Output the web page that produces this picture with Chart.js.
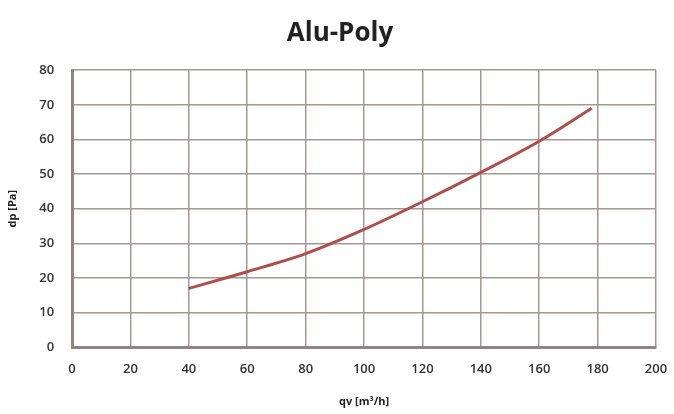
<!DOCTYPE html>
<html>
<head>
<meta charset="utf-8">
<script src="https://cdn.jsdelivr.net/npm/chart.js@4/dist/chart.umd.min.js"></script>
<style>
  html, body { margin: 0; padding: 0; background: #fff; }
  #wrap { width: 674px; height: 414px; }
</style>
</head>
<body>
<div id="wrap"><canvas id="chart"></canvas></div>
<script>
// flow values (m3/h) and matching pressure drop (Pa)
var flowValues = [40, 60, 80, 100, 120, 140, 160, 178];
var pressureValues = [17, 21.8, 27, 34, 42, 50.5, 59.5, 69];

var xTicks = [0, 20, 40, 60, 80, 100, 120, 140, 160, 180, 200];
var yTicks = [0, 10, 20, 30, 40, 50, 60, 70, 80];

var points = flowValues.map(function (q, i) {
    return { x: q, y: pressureValues[i] };
});

var gridColor = '#a39894';
var tickFont = { family: 'Open Sans', size: 13, weight: '600' };

new Chart(document.getElementById('chart'), {
    type: 'scatter',
    data: {
        datasets: [{
            label: 'Alu-Poly',
            data: points,
            showLine: true,
            borderColor: '#b14e4c',
            borderWidth: 3,
            pointRadius: 0,
            tension: 0.4,
            cubicInterpolationMode: 'monotone'
        }]
    },
    options: {
        responsive: true,
        maintainAspectRatio: false,
        animation: false,
        layout: { padding: { left: 6, right: 0, top: 6, bottom: 6 } },
        plugins: {
            legend: { display: false },
            tooltip: { enabled: false },
            title: {
                display: true,
                text: 'Alu-Poly',
                color: '#222',
                font: { family: 'Open Sans', size: 26, weight: 'bold' },
                padding: { top: 12, bottom: 21 }
            }
        },
        scales: {
            x: {
                type: 'linear',
                min: 0,
                max: 200,
                afterBuildTicks: function (axis) {
                    axis.ticks = xTicks.map(function (v) { return { value: v }; });
                },
                // the tick padding would otherwise be added to the right edge
                afterFit: function (axis) {
                    axis.paddingRight = 18;
                },
                grid: { color: gridColor, lineWidth: 1.5, drawTicks: false },
                border: { color: '#8f8683', width: 3 },
                ticks: { color: '#333', font: tickFont, padding: 14 },
                title: {
                    display: true,
                    text: 'qv [m³/h]',
                    color: '#222',
                    font: { family: 'Open Sans', size: 11, weight: 'bold' },
                    padding: { top: 4, bottom: 0 }
                }
            },
            y: {
                type: 'linear',
                min: 0,
                max: 80,
                afterBuildTicks: function (axis) {
                    axis.ticks = yTicks.map(function (v) { return { value: v }; });
                },
                grid: { color: gridColor, lineWidth: 1.5, drawTicks: false },
                border: { color: '#8f8683', width: 3 },
                ticks: { color: '#333', font: tickFont, padding: 18 },
                title: {
                    display: true,
                    text: 'dp [Pa]',
                    color: '#222',
                    font: { family: 'Open Sans', size: 11, weight: 'bold' },
                    padding: { top: 0, bottom: 2 }
                }
            }
        }
    }
});
</script>
</body>
</html>
